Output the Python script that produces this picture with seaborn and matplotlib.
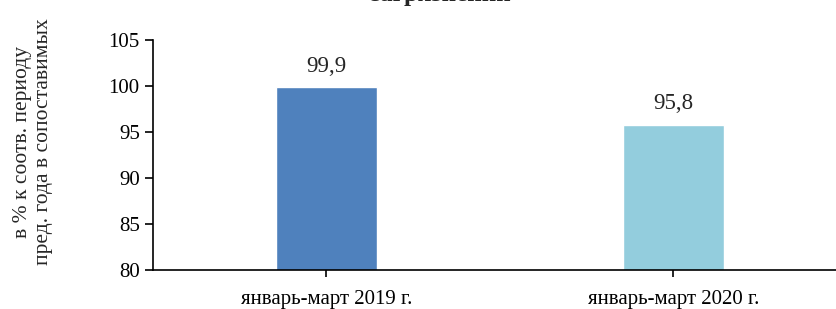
import matplotlib
matplotlib.use("Agg")
import matplotlib.pyplot as plt
import seaborn as sns
import pandas as pd

# data
periods = ["январь-март 2019 г.", "январь-март 2020 г."]
values = [99.9, 95.8]
value_labels = ["99,9", "95,8"]
bar_colors = ["#4F81BD", "#93CDDD"]

df = pd.DataFrame({"period": periods, "value": values})

sns.set_style("white")
plt.rcParams["font.family"] = ["Liberation Serif", "DejaVu Serif"]

fig = plt.figure(figsize=(8.36, 3.09), dpi=100)
ax = fig.add_axes([0.183, 0.126, 0.83, 0.745])

sns.barplot(data=df, x="period", y="value", hue="period", palette=bar_colors,
            width=0.29, legend=False, ax=ax, saturation=1)

for i, (v, lab) in enumerate(zip(values, value_labels)):
    ax.text(i, v + 1.1, lab, ha="center", va="bottom", fontsize=16.5)

ax.set_ylim(80, 105)
ax.set_yticks([80, 85, 90, 95, 100, 105])
ax.set_xlim(-0.5, 1.5)
ax.set_xlabel("")
ax.set_ylabel("")

# y axis title, two lines, placed in figure coordinates
fig.text(33 / 836, 1 - 142 / 309, "в % к соотв. периоду\nпред. года в сопоставимых",
         rotation=90, ha="center", va="center", multialignment="center", fontsize=15.5)

sns.despine(ax=ax, top=True, right=True)
for s in ["left", "bottom"]:
    ax.spines[s].set_color("black")
    ax.spines[s].set_linewidth(1.2)
ax.tick_params(axis="y", direction="out", length=6, width=1.2, colors="black", labelsize=15, left=True)
ax.tick_params(axis="x", direction="out", length=5, width=1.2, colors="black", labelsize=15, pad=9, bottom=True)

# title, cut off at the top in the reference
fig.text(0.527, 1 - 1.5 / 309, "загрязнении", ha="center", va="baseline",
         fontsize=18, fontweight="bold")

fig.savefig("out.png", dpi=100)
